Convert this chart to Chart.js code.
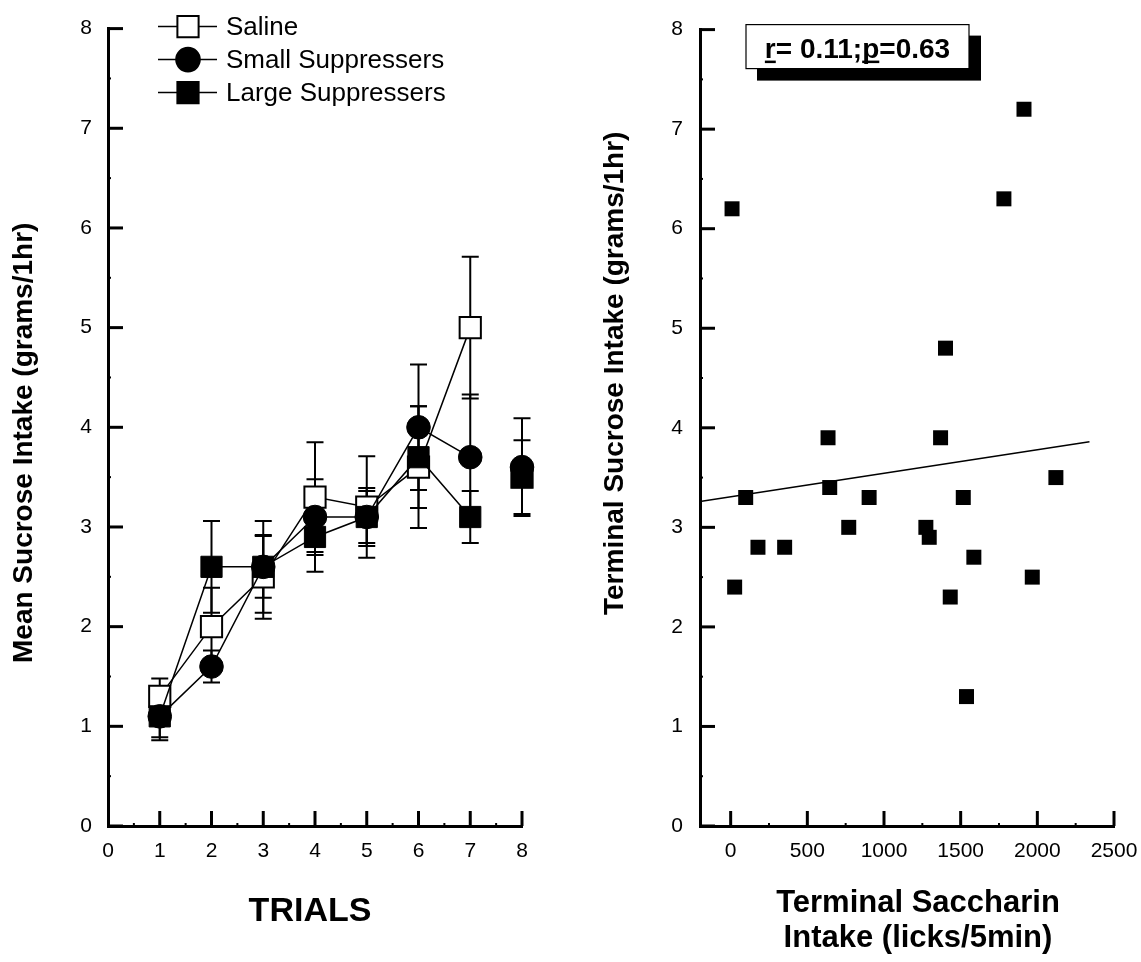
<!DOCTYPE html>
<html>
<head>
<meta charset="utf-8">
<script src="https://cdn.jsdelivr.net/npm/chart.js@4.4.1/dist/chart.umd.min.js"></script>
<style>
  html, body { margin: 0; padding: 0; background: #fff; }
  #wrap { position: relative; width: 1141px; height: 962px; }
  #trialsChart { position: absolute; left: 0; top: 0; }
  #scatterChart { position: absolute; left: 570px; top: 0; }
</style>
</head>
<body>
<div id="wrap">
  <canvas id="trialsChart" width="570" height="962"></canvas>
  <canvas id="scatterChart" width="571" height="962"></canvas>
</div>
<script>
// left panel: mean intake over trials (mean +/- error)
const trials = [1, 2, 3, 4, 5, 6, 7, 8];
const salineMean = [1.3, 2.0, 2.5, 3.3, 3.2, 3.6, 5.0, 3.5];
const salineErr = [0.18, 0.39, 0.42, 0.55, 0.51, 0.61, 0.71, 0.08];
const smallMean = [1.1, 1.6, 2.6, 3.1, 3.1, 4.0, 3.7, 3.6];
const smallErr = [0.24, 0.16, 0.46, 0.38, 0.29, 0.63, 0.63, 0.49];
const largeMean = [1.1, 2.6, 2.6, 2.9, 3.1, 3.7, 3.1, 3.5];
const largeErr = [0.21, 0.46, 0.31, 0.35, 0.26, 0.51, 0.26, 0.37];
const trialTicks = [0, 1, 2, 3, 4, 5, 6, 7, 8];
const trialMinor = [0.5, 1.5, 2.5, 3.5, 4.5, 5.5, 6.5, 7.5];

// right panel: terminal saccharin vs terminal sucrose
const saccharinLicks = [9, 26, 98, 178, 352, 635, 646, 770, 903, 1273, 1295, 1369, 1401, 1432, 1517, 1538, 1586, 1782, 1913, 1967, 2121];
const sucroseIntake = [6.2, 2.4, 3.3, 2.8, 2.8, 3.9, 3.4, 3.0, 3.3, 3.0, 2.9, 3.9, 4.8, 2.3, 3.3, 1.3, 2.7, 6.3, 7.2, 2.5, 3.5];
const fitLicks = [-200, 2340];
const fitIntake = [3.26, 3.86];
const lickTicks = [0, 500, 1000, 1500, 2000, 2500];
const lickMinor = [250, 750, 1250, 1750, 2250];

const intakeTicks = [0, 1, 2, 3, 4, 5, 6, 7, 8];
const intakeMinor = [0.5, 1.5, 2.5, 3.5, 4.5, 5.5, 6.5, 7.5];
const corrLabel = ['r', '= 0.11;', 'p', '=0.63'];

const trialsYTitle = 'Mean Sucrose Intake (grams/1hr)';
const trialsXTitle = ['TRIALS'];
const scatterYTitle = 'Terminal Sucrose Intake (grams/1hr)';
const scatterXTitle = ['Terminal Saccharin', 'Intake (licks/5min)'];

const FONT = "'Liberation Sans', Arial, Helvetica, sans-serif";
Chart.defaults.font.family = FONT;
Chart.defaults.color = '#000';

const pts = (xs, ys) => xs.map((x, i) => ({ x: x, y: ys[i] }));

// ticks pointing into the plot, like the original figure
const insideTicks = {
  id: 'insideTicks',
  afterDraw(chart, args, opts) {
    const { ctx, chartArea: a, scales: { x, y } } = chart;
    ctx.save();
    ctx.strokeStyle = '#000';
    const seg = (x1, y1, x2, y2) => { ctx.beginPath(); ctx.moveTo(x1, y1); ctx.lineTo(x2, y2); ctx.stroke(); };
    ctx.lineWidth = 3;
    opts.xMajor.forEach(v => { const p = x.getPixelForValue(v); seg(p, a.bottom, p, a.bottom - 15); });
    opts.yMajor.forEach(v => { const p = y.getPixelForValue(v); seg(a.left, p, a.left + 15, p); });
    ctx.lineWidth = 2;
    opts.xMinor.forEach(v => { const p = x.getPixelForValue(v); seg(p, a.bottom, p, a.bottom - 3); });
    opts.yMinor.forEach(v => { const p = y.getPixelForValue(v); seg(a.left, p, a.left + 3, p); });
    ctx.restore();
  }
};

// axis titles placed like the original (offsets from the plot area)
const axisTitles = {
  id: 'axisTitles',
  afterDraw(chart, args, opts) {
    const { ctx, chartArea: a } = chart;
    ctx.save();
    ctx.fillStyle = '#000';
    ctx.textBaseline = 'middle';
    ctx.font = 'bold ' + opts.ySize + 'px ' + FONT;
    ctx.save();
    ctx.translate(a.left + opts.yDx, a.bottom + opts.yDy);
    ctx.rotate(-Math.PI / 2);
    ctx.textAlign = 'left';
    ctx.fillText(opts.yText, 0, 0);
    ctx.restore();
    ctx.font = 'bold ' + opts.xSize + 'px ' + FONT;
    ctx.textAlign = 'center';
    const cx = (a.left + a.right) / 2 + opts.xDx;
    opts.xText.forEach((t, i) => ctx.fillText(t, cx, a.bottom + opts.xDy + i * opts.xGap));
    ctx.restore();
  }
};

const errorBars = {
  id: 'errorBars',
  beforeDatasetsDraw(chart) {
    const { ctx, scales: { x, y } } = chart;
    ctx.save();
    ctx.strokeStyle = '#000';
    ctx.lineWidth = 2;
    chart.data.datasets.forEach(ds => {
      if (!ds.errors) return;
      ds.data.forEach((p, i) => {
        const px = x.getPixelForValue(p.x);
        const hi = y.getPixelForValue(p.y + ds.errors[i]);
        const lo = y.getPixelForValue(p.y - ds.errors[i]);
        ctx.beginPath();
        ctx.moveTo(px, hi); ctx.lineTo(px, lo);
        ctx.moveTo(px - 8.5, hi); ctx.lineTo(px + 8.5, hi);
        ctx.moveTo(px - 8.5, lo); ctx.lineTo(px + 8.5, lo);
        ctx.stroke();
      });
    });
    ctx.restore();
  }
};

function marker(ctx, style, r, fill, x, y) {
  ctx.beginPath();
  if (style === 'circle') {
    ctx.arc(x, y, r, 0, Math.PI * 2);
  } else {
    const h = r * Math.SQRT1_2;
    ctx.rect(x - h, y - h, 2 * h, 2 * h);
  }
  ctx.fillStyle = fill;
  ctx.fill();
  ctx.lineWidth = 2;
  ctx.strokeStyle = '#000';
  ctx.stroke();
}

// legend with the line running through each marker
const lineLegend = {
  id: 'lineLegend',
  afterDraw(chart) {
    const { ctx, chartArea: a } = chart;
    ctx.save();
    chart.data.datasets.forEach((ds, i) => {
      const x0 = a.left + 50;
      const y = a.top - 2 + i * 33;
      ctx.strokeStyle = '#000';
      ctx.lineWidth = 1.5;
      ctx.beginPath(); ctx.moveTo(x0, y); ctx.lineTo(x0 + 59, y); ctx.stroke();
      marker(ctx, ds.pointStyle, ds.pointRadius, ds.pointBackgroundColor, x0 + 30, y);
      ctx.fillStyle = '#000';
      ctx.font = '26px ' + FONT;
      ctx.textBaseline = 'middle';
      ctx.fillText(ds.label, x0 + 68, y + 1);
    });
    ctx.restore();
  }
};

// boxed r / p annotation with drop shadow
const corrBox = {
  id: 'corrBox',
  afterDraw(chart) {
    const { ctx, chartArea: a } = chart;
    const bx = a.left + 46, by = a.top - 5, bw = 223, bh = 44;
    ctx.save();
    ctx.fillStyle = '#000';
    ctx.fillRect(bx + 11, by + 11, bw + 1, bh + 1);
    ctx.fillStyle = '#fff';
    ctx.fillRect(bx, by, bw, bh);
    ctx.strokeStyle = '#000';
    ctx.lineWidth = 1.2;
    ctx.strokeRect(bx, by, bw, bh);
    ctx.font = 'bold 28px ' + FONT;
    ctx.textBaseline = 'alphabetic';
    const widths = corrLabel.map(t => ctx.measureText(t).width);
    const total = widths.reduce((s, w) => s + w, 0);
    let tx = bx + (bw - total) / 2;
    const base = by + 33;
    ctx.fillStyle = '#000';
    corrLabel.forEach((t, i) => {
      ctx.fillText(t, tx, base);
      if (i % 2 === 0) ctx.fillRect(tx, base + 3, widths[i], 2.5);
      tx += widths[i];
    });
    ctx.restore();
  }
};

function axisScales(xMin, xMax, xTicks, yWidth, yPad) {
  return {
    x: {
      type: 'linear', min: xMin, max: xMax,
      afterBuildTicks: s => { s.ticks = xTicks.map(v => ({ value: v })); },
      afterFit: s => { s.height = 136; s.paddingLeft = 0; s.paddingRight = 0; },
      grid: { display: false, drawTicks: false },
      border: { display: true, color: '#000', width: 3 },
      ticks: { padding: 13, font: { size: 21 }, color: '#000', maxRotation: 0, autoSkip: false, callback: v => String(v) }
    },
    y: {
      type: 'linear', min: 0, max: 8,
      afterBuildTicks: s => { s.ticks = intakeTicks.map(v => ({ value: v })); },
      afterFit: s => { s.width = yWidth; },
      grid: { display: false, drawTicks: false },
      border: { display: true, color: '#000', width: 3 },
      ticks: { padding: yPad, font: { size: 21 }, color: '#000', callback: v => String(v) }
    }
  };
}

const lineSegment = { borderColor: c => (c.p0.parsed.x === 7 ? 'rgba(0,0,0,0)' : '#000') };

new Chart(document.getElementById('trialsChart'), {
  type: 'line',
  data: {
    datasets: [
      {
        label: 'Saline', data: pts(trials, salineMean), errors: salineErr, order: 3,
        pointStyle: 'rect', pointRadius: 15, pointBackgroundColor: '#fff',
        pointBorderColor: '#000', pointBorderWidth: 2,
        borderColor: '#000', borderWidth: 1.5, segment: lineSegment
      },
      {
        label: 'Small Suppressers', data: pts(trials, smallMean), errors: smallErr, order: 1,
        pointStyle: 'circle', pointRadius: 11.8, pointBackgroundColor: '#000',
        pointBorderColor: '#000', pointBorderWidth: 1,
        borderColor: '#000', borderWidth: 1.5, segment: lineSegment
      },
      {
        label: 'Large Suppressers', data: pts(trials, largeMean), errors: largeErr, order: 2,
        pointStyle: 'rect', pointRadius: 15, pointBackgroundColor: '#000',
        pointBorderColor: '#000', pointBorderWidth: 1,
        borderColor: '#000', borderWidth: 1.5, segment: lineSegment
      }
    ]
  },
  options: {
    responsive: false,
    devicePixelRatio: 1,
    animation: false,
    clip: false,
    layout: { padding: { top: 27, right: 48, left: 0, bottom: 0 } },
    elements: { line: { tension: 0 } },
    scales: axisScales(0, 8, trialTicks, 108, 16),
    plugins: {
      legend: { display: false },
      tooltip: { enabled: false },
      insideTicks: { xMajor: trials, xMinor: trialMinor, yMajor: intakeTicks, yMinor: intakeMinor },
      axisTitles: {
        yText: trialsYTitle, ySize: 28, yDx: -84, yDy: -163,
        xText: trialsXTitle, xSize: 34, xDx: -5, xDy: 86, xGap: 0
      }
    }
  },
  plugins: [errorBars, insideTicks, lineLegend, axisTitles]
});

new Chart(document.getElementById('scatterChart'), {
  type: 'scatter',
  data: {
    datasets: [
      {
        label: 'Animals', data: pts(saccharinLicks, sucroseIntake),
        pointStyle: 'rect', pointRadius: 10.6, pointBackgroundColor: '#000',
        pointBorderColor: '#000', pointBorderWidth: 0, showLine: false
      },
      {
        label: 'Fit', type: 'line', data: pts(fitLicks, fitIntake),
        borderColor: '#000', borderWidth: 1.5, pointRadius: 0
      }
    ]
  },
  options: {
    responsive: false,
    devicePixelRatio: 1,
    animation: false,
    clip: false,
    layout: { padding: { top: 27, right: 27, left: 0, bottom: 0 } },
    scales: axisScales(-200, 2500, lickTicks, 130, 17),
    plugins: {
      legend: { display: false },
      tooltip: { enabled: false },
      insideTicks: { xMajor: lickTicks, xMinor: lickMinor, yMajor: intakeTicks, yMinor: intakeMinor },
      axisTitles: {
        yText: scatterYTitle, ySize: 28, yDx: -85, yDy: -211,
        xText: scatterXTitle, xSize: 31, xDx: 11, xDy: 77, xGap: 35
      }
    }
  },
  plugins: [insideTicks, corrBox, axisTitles]
});
</script>
</body>
</html>
